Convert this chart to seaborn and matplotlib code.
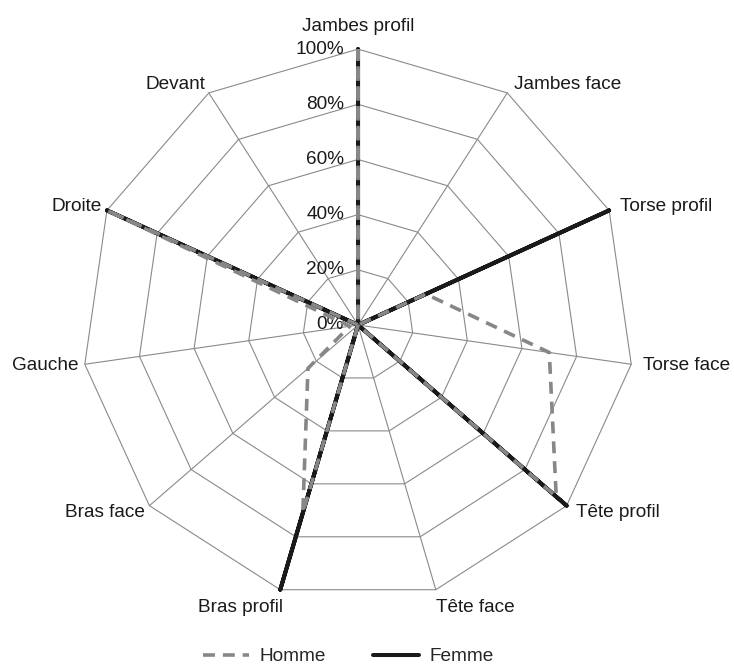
import numpy as np
import pandas as pd
import seaborn as sns
import matplotlib.pyplot as plt

# Radar chart data (percent)
categories = ["Jambes profil", "Jambes face", "Torse profil", "Torse face", "Tête profil",
              "Tête face", "Bras profil", "Bras face", "Gauche", "Droite", "Devant"]
homme = [100, 0, 27, 70, 95, 0, 71, 24, 3, 100, 0]
femme = [100, 0, 100, 0, 100, 0, 100, 0, 0, 100, 0]
ring_levels = [20, 40, 60, 80, 100]
tick_levels = [0, 20, 40, 60, 80, 100]

sns.set_style("white")
plt.rcParams['font.family'] = ['Liberation Sans', 'DejaVu Sans']

n = len(categories)
theta = 2 * np.pi * np.arange(n) / n
sx, sy = np.sin(theta), np.cos(theta)


def to_frame(values, name):
    r = np.array(values + values[:1]) / 100
    t = np.append(theta, theta[0])
    return pd.DataFrame({"x": r * np.sin(t), "y": r * np.cos(t), "series": name})


df = pd.concat([to_frame(femme, "Femme"), to_frame(homme, "Homme")], ignore_index=True)

fig = plt.figure(figsize=(7.34, 6.66), dpi=100)
ax = fig.add_axes([0, 0, 1, 1])
ax.set_xlim(-1.297, 1.362)
ax.set_ylim(-1.236, 1.178)
ax.axis("off")

grid_col = "#8a8a8a"
# polygon rings
for lev in ring_levels:
    r = lev / 100
    ax.plot(np.append(sx, sx[0]) * r, np.append(sy, sy[0]) * r, color=grid_col, lw=0.8, zorder=1)
# spokes
for i in range(n):
    ax.plot([0, sx[i]], [0, sy[i]], color=grid_col, lw=0.8, zorder=1)

sns.lineplot(data=df[df.series == "Femme"], x="x", y="y", sort=False, estimator=None,
             color="#1a1a1a", lw=2.9, ax=ax, label="Femme", zorder=3)
sns.lineplot(data=df[df.series == "Homme"], x="x", y="y", sort=False, estimator=None,
             color="#878787", lw=2.6, linestyle=(0, (3.3, 2.2)), ax=ax, label="Homme", zorder=4)

# category labels
fs = 13.7
for i, cat in enumerate(categories):
    s, c = sx[i], sy[i]
    if c < -0.9:
        ha, va, off = "center", "top", (s * 140, c * 10)
    elif c > 0.9:
        ha, va, off = "center", "bottom", (0, 14)
    elif s > 0:
        ha, va, off = "left", "center", (s * 12, c * 10)
    else:
        ha, va, off = "right", "center", (s * 6, c * 10)
    ax.annotate(cat, xy=(s, c), xytext=off, textcoords="offset pixels",
                ha=ha, va=va, fontsize=fs, color="#1a1a1a")

# radial tick labels
for lev in tick_levels:
    ax.annotate(f"{lev}%", xy=(0, lev / 100), xytext=(-14, 0), textcoords="offset pixels",
                ha="right", va="center", fontsize=fs, color="#1a1a1a")

handles, labels = ax.get_legend_handles_labels()
order = [labels.index("Homme"), labels.index("Femme")]
ax.legend([handles[k] for k in order], [labels[k] for k in order], loc="center",
          bbox_to_anchor=(0.475, 0.014), bbox_transform=fig.transFigure, ncol=2,
          frameon=False, fontsize=fs, handlelength=2.4, handletextpad=0.55, columnspacing=2.5)

fig.savefig("out.png", dpi=100)
